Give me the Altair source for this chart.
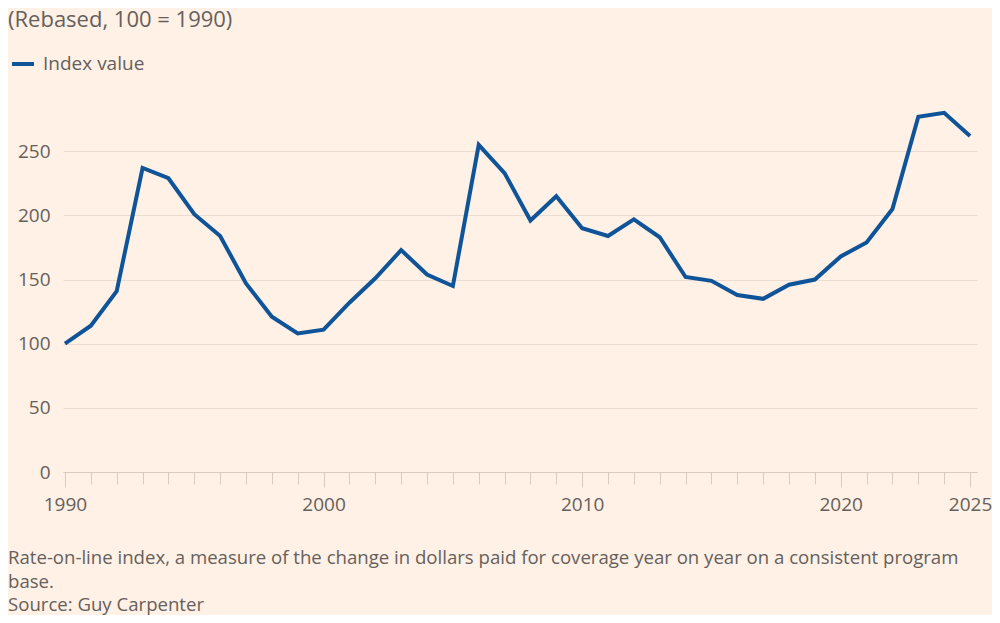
import altair as alt
import pandas as pd

# ---- data ----
years = list(range(1990, 2026))
values = [100, 114, 141, 237, 229, 201, 184, 147, 121, 108,
          111, 132, 151, 173, 154, 145, 255, 233, 196, 215,
          190, 184, 197, 183, 152, 149, 138, 135, 146, 150,
          168, 179, 205, 277, 280, 262]
series_name = "Index value"
y_ticks = [0, 50, 100, 150, 200, 250]
x_label_years = [1990, 2000, 2010, 2020, 2025]
title_text = "(Rebased, 100 = 1990)"
footer_lines = [
    "Rate-on-line index, a measure of the change in dollars paid for coverage year on year on a consistent program",
    "base.",
    "Source: Guy Carpenter",
]

df = pd.DataFrame({"year": years, "value": values, "series": series_name})

FONT = "Open Sans"
TEXT = "#66605c"
LINE = "#0f5499"
GRID = "#eadcd0"
AXIS = "#d8cbbf"
BG = "#fff1e5"

W, H = 914, 372
PAD_L, PAD_T, PAD_R, PAD_B = 55, 92, 15, 143

x_scale = alt.Scale(domain=[1989.923, 2025.27], nice=False, zero=False)
y_scale = alt.Scale(domain=[0, 290], nice=False)

line = alt.Chart(df).mark_line(strokeWidth=4, strokeJoin="miter").encode(
    x=alt.X("year:Q", scale=x_scale,
            axis=alt.Axis(values=years, tickSize=12, labels=False, grid=False,
                          domain=True, domainColor=AXIS, tickColor=AXIS,
                          title=None, orient="bottom")),
    y=alt.Y("value:Q", scale=y_scale,
            axis=alt.Axis(values=y_ticks, grid=True, gridColor=GRID, domain=False,
                          ticks=False, labelPadding=13, labelFontSize=19,
                          labelFont=FONT, labelColor=TEXT, title=None)),
    color=alt.Color("series:N",
                    scale=alt.Scale(domain=[series_name], range=[LINE]),
                    legend=alt.Legend(orient="none", legendX=-53, legendY=-49,
                                      title=None, symbolType="stroke",
                                      symbolStrokeWidth=4, symbolSize=484,
                                      labelFontSize=19, labelColor=TEXT,
                                      labelFont=FONT, labelOffset=7, padding=0)),
)

major = alt.Chart(df).mark_point(opacity=0).encode(
    x=alt.X("year:Q", scale=x_scale,
            axis=alt.Axis(values=x_label_years, tickSize=15, labelPadding=8,
                          labelFontSize=19, labelFont=FONT, labelColor=TEXT,
                          tickColor=AXIS, domain=False, grid=False, format="d",
                          title=None, orient="bottom", labelFlush=False)),
    y=alt.Y("value:Q", scale=y_scale, axis=None),
)

title_df = pd.DataFrame({"t": [title_text]})
title = alt.Chart(title_df).mark_text(
    align="left", baseline="middle", fontSize=22, font=FONT, color=TEXT
).encode(x=alt.value(-PAD_L), y=alt.value(-80), text="t:N")

footer_df = pd.DataFrame({"t": footer_lines, "i": list(range(len(footer_lines)))})
footer = alt.Chart(footer_df).mark_text(
    align="left", baseline="middle", fontSize=18.6, font=FONT, color=TEXT
).encode(
    x=alt.value(-PAD_L),
    y=alt.Y("i:Q", scale=alt.Scale(domain=[0, 2], range=[458, 505]), axis=None),
    text="t:N",
)

chart = alt.layer(line, major, title, footer).resolve_axis(x="independent").resolve_scale(y="independent").properties(
    width=W, height=H,
    autosize=alt.AutoSizeParams(type="none"),
    padding={"left": PAD_L, "top": PAD_T, "right": PAD_R, "bottom": PAD_B},
    background=BG,
).configure_view(strokeWidth=0)

chart.save("out.html", embed_options={"renderer": "svg", "actions": False})
